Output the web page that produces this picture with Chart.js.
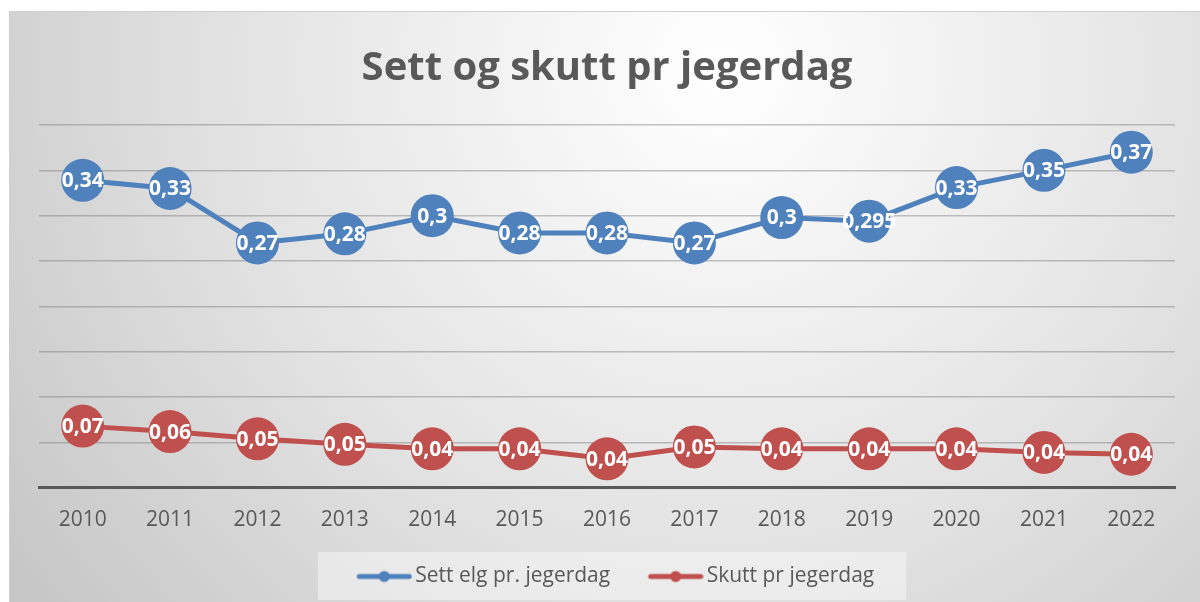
<!DOCTYPE html>
<html>
<head>
<meta charset="utf-8">
<script src="https://cdn.jsdelivr.net/npm/chart.js@4/dist/chart.umd.min.js"></script>
<style>
  html, body { margin: 0; padding: 0; background: #fff; }
  canvas { display: block; }
</style>
</head>
<body>
<canvas id="jaktChart" width="1200" height="602"></canvas>
<script>
const years = ['2010', '2011', '2012', '2013', '2014', '2015', '2016', '2017', '2018', '2019', '2020', '2021', '2022'];
const settElg = [0.339, 0.330, 0.270, 0.280, 0.300, 0.281, 0.281, 0.270, 0.298, 0.294, 0.331, 0.350, 0.370];
const skutt = [0.068, 0.062, 0.054, 0.048, 0.043, 0.043, 0.032, 0.045, 0.043, 0.043, 0.043, 0.039, 0.037];
const settLabels = ['0,34', '0,33', '0,27', '0,28', '0,3', '0,28', '0,28', '0,27', '0,3', '0,295', '0,33', '0,35', '0,37'];
const skuttLabels = ['0,07', '0,06', '0,05', '0,05', '0,04', '0,04', '0,04', '0,05', '0,04', '0,04', '0,04', '0,04', '0,04'];

const blue = '#4f81bd';
const red = '#c0504d';
const textGrey = '#595959';
const fontFam = "'Open Sans', 'DejaVu Sans', sans-serif";

// line+dot marker for the legend (drawn in the right part of the canvas
// so the text sits tight against it, like in Excel)
function legendMarker(color) {
  const c = document.createElement('canvas');
  c.width = 80; c.height = 14;
  const g = c.getContext('2d');
  g.strokeStyle = color;
  g.lineWidth = 5;
  g.lineCap = 'round';
  g.beginPath(); g.moveTo(27, 7); g.lineTo(77, 7); g.stroke();
  g.fillStyle = color;
  g.beginPath(); g.arc(52, 7, 5.5, 0, Math.PI * 2); g.fill();
  return c;
}
const markers = [legendMarker(blue), legendMarker(red)];

const backdrop = {
  id: 'backdrop',
  beforeDraw(chart) {
    const c = chart.ctx;
    const w = chart.width, h = chart.height;
    c.save();
    c.fillStyle = '#fff';
    c.fillRect(0, 0, w, h);
    const grad = c.createRadialGradient(720, 70, 0, 720, 70, 900);
    grad.addColorStop(0, '#ffffff');
    grad.addColorStop(0.55, '#e2e2e2');
    grad.addColorStop(1, '#c4c4c4');
    c.fillStyle = grad;
    c.fillRect(10, 12, w - 10, h - 12);
    c.strokeStyle = '#d0d0d0';
    c.lineWidth = 1;
    c.strokeRect(9.5, 11.5, w, h);
    // legend panel
    const boxes = chart.legend && chart.legend.legendHitBoxes;
    if (boxes && boxes.length) {
      const l = Math.min(...boxes.map(b => b.left)) - 22;
      const r = Math.max(...boxes.map(b => b.left + b.width)) + 32;
      const t = Math.min(...boxes.map(b => b.top)) - 14;
      const b2 = Math.max(...boxes.map(b => b.top + b.height)) + 13;
      c.fillStyle = 'rgba(245,245,245,0.55)';
      c.fillRect(l, t, r - l, b2 - t);
    }
    c.restore();
  }
};

const pointLabels = {
  id: 'pointLabels',
  afterDatasetsDraw(chart) {
    const c = chart.ctx;
    const all = [settLabels, skuttLabels];
    c.save();
    c.fillStyle = '#fff';
    c.font = "bold 21px " + fontFam;
    c.textAlign = 'center';
    c.textBaseline = 'middle';
    chart.data.datasets.forEach((ds, i) => {
      chart.getDatasetMeta(i).data.forEach((pt, j) => {
        c.fillText(all[i][j], pt.x, pt.y + 1);
      });
    });
    c.restore();
  }
};

const ctx = document.getElementById('jaktChart').getContext('2d');
const jaktChart = new Chart(ctx, {
  type: 'line',
  data: {
    labels: years,
    datasets: [{
      label: 'Sett elg pr. jegerdag',
      data: settElg,
      borderColor: blue,
      backgroundColor: blue,
      borderWidth: 5,
      pointRadius: 21.5,
      pointHoverRadius: 21.5,
      pointBorderWidth: 0,
      tension: 0
    }, {
      label: 'Skutt pr jegerdag',
      data: skutt,
      borderColor: red,
      backgroundColor: red,
      borderWidth: 5,
      pointRadius: 21.5,
      pointHoverRadius: 21.5,
      pointBorderWidth: 0,
      tension: 0
    }]
  },
  options: {
    responsive: false,
    animation: false,
    layout: {
      padding: { left: 39, right: 25, top: 0, bottom: 5 }
    },
    scales: {
      x: {
        offset: true,
        grid: { display: false },
        border: { color: textGrey, width: 3 },
        ticks: { color: textGrey, font: { family: fontFam, size: 21 }, padding: 12 }
      },
      y: {
        min: 0,
        max: 0.4,
        ticks: { display: false, stepSize: 0.05 },
        border: { display: false },
        grid: { color: 'rgba(110,110,110,0.4)', lineWidth: 1.5, drawTicks: false }
      }
    },
    plugins: {
      title: {
        display: true,
        text: 'Sett og skutt pr jegerdag',
        color: textGrey,
        font: { family: fontFam, size: 40, weight: 'bold' },
        padding: { top: 45, bottom: 32 }
      },
      legend: {
        position: 'bottom',
        labels: {
          color: textGrey,
          font: { family: fontFam, size: 21 },
          usePointStyle: true,
          pointStyleWidth: 65,
          padding: 21,
          generateLabels(chart) {
            const items = Chart.defaults.plugins.legend.labels.generateLabels(chart);
            items.forEach((it, i) => { it.pointStyle = markers[i]; });
            return items;
          }
        }
      },
      tooltip: { enabled: false }
    }
  },
  plugins: [backdrop, pointLabels]
});
</script>
</body>
</html>
